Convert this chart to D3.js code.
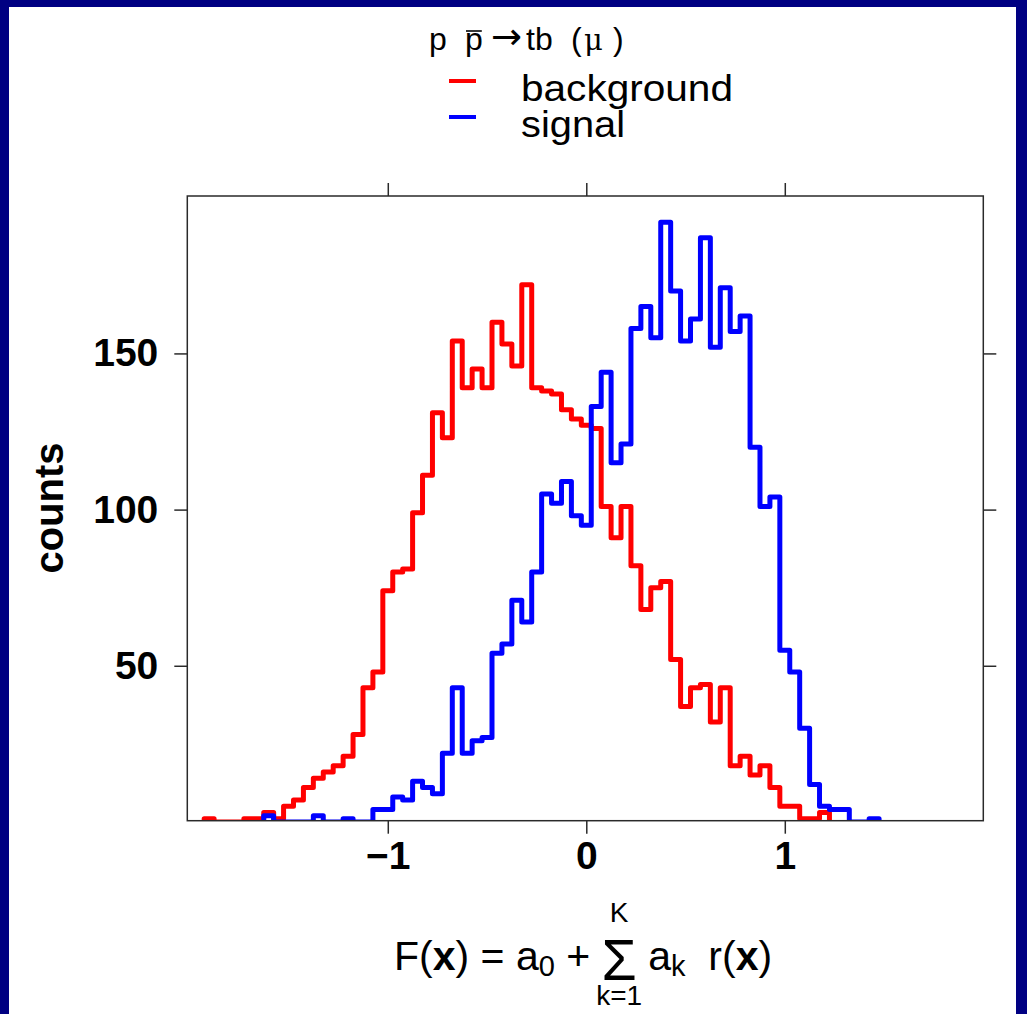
<!DOCTYPE html>
<html><head><meta charset="utf-8">
<script src="https://cdn.jsdelivr.net/npm/d3@7"></script>
<style>html,body{margin:0;padding:0;background:#000082;} svg{display:block}</style>
</head><body>
<svg id="chart" width="1027" height="1014"></svg>
<script>
// ---- data ----
const binCenters = [-1.90,-1.85,-1.80,-1.75,-1.70,-1.65,-1.60,-1.55,-1.50,-1.45,
  -1.40,-1.35,-1.30,-1.25,-1.20,-1.15,-1.10,-1.05,-1.00,-0.95,
  -0.90,-0.85,-0.80,-0.75,-0.70,-0.65,-0.60,-0.55,-0.50,-0.45,
  -0.40,-0.35,-0.30,-0.25,-0.20,-0.15,-0.10,-0.05,0.00,0.05,
  0.10,0.15,0.20,0.25,0.30,0.35,0.40,0.45,0.50,0.55,
  0.60,0.65,0.70,0.75,0.80,0.85,0.90,0.95,1.00,1.05,
  1.10,1.15,1.20,1.25,1.30,1.35,1.40,1.45];
const binWidth = 0.05;
const backgroundCounts = [1,0,0,0,1,1,3,1,5,7,
  11,14,16,18,21,28,43,48,74,80,
  81,99,111,131,123,154,139,145,139,160,
  153,146,172,139,138,137,132,129,127,126,
  101,91,101,82,68,75,77,52,37,43,
  44,32,43,18,21,15,18,11,5,5,
  1,1,3,0,0,0,0,0];
const signalCounts = [0,0,0,0,0,0,2,0,0,0,
  0,2,0,0,1,0,0,4,4,8,
  7,13,11,9,22,43,22,26,27,54,
  57,71,64,80,105,102,109,98,95,133,
  144,115,121,158,165,155,192,170,154,161,
  187,152,171,157,162,120,101,104,55,48,
  30,12,5,4,4,0,0,1];
const seriesNames = ["background", "signal"];
const seriesColors = ["#ff0000", "#0000ff"];
const xTicks = [-1, 0, 1];
const xTickLabels = ["\u22121", "0", "1"];
const yTicks = [50, 100, 150];
const yTickLabels = ["50", "100", "150"];
const xDomain = [-2.01, 2.0];
const yDomain = [0.4, 200.4];

// ---- layout ----
const W = 1027, H = 1014;
const plot = {left: 187.3, right: 983.3, top: 196, bottom: 820.7};
const svg = d3.select("#chart");
const FONT = "'Liberation Sans', Arial, Helvetica, sans-serif";

svg.append("rect").attr("x", 0).attr("y", 0).attr("width", W).attr("height", H).attr("fill", "#000082");
svg.append("rect").attr("x", 9).attr("y", 7).attr("width", 1007).attr("height", H - 7).attr("fill", "#ffffff");

const x = d3.scaleLinear().domain(xDomain).range([plot.left, plot.right]);
const y = d3.scaleLinear().domain(yDomain).range([plot.bottom, plot.top]);

svg.append("defs").append("clipPath").attr("id", "clip")
  .append("rect").attr("x", plot.left).attr("y", plot.top)
  .attr("width", plot.right - plot.left).attr("height", plot.bottom - plot.top);

// histograms (step outlines)
function stepPoints(counts) {
  const first = counts.findIndex(v => v > 0);
  const last = counts.length - 1 - [...counts].reverse().findIndex(v => v > 0);
  const pts = [[binCenters[first] - binWidth / 2, 0]];
  for (let i = first; i <= last; i++) {
    pts.push([binCenters[i] - binWidth / 2, counts[i]]);
    pts.push([binCenters[i] + binWidth / 2, counts[i]]);
  }
  pts.push([binCenters[last] + binWidth / 2, 0]);
  return pts;
}
const line = d3.line().x(d => x(d[0])).y(d => y(d[1]));
const histG = svg.append("g").attr("clip-path", "url(#clip)");
[backgroundCounts, signalCounts].forEach((counts, i) => {
  histG.append("path").attr("d", line(stepPoints(counts)))
    .attr("fill", "none").attr("stroke", seriesColors[i])
    .attr("stroke-width", 5).attr("stroke-linejoin", "round").attr("stroke-linecap", "round");
});

// axes: ticks on all four sides, outward
const axisColor = "#2a2a2a";
const tickLen = 13;
const axB = d3.axisBottom(x).tickValues(xTicks).tickFormat((d, i) => xTickLabels[i]).tickSizeInner(tickLen).tickSizeOuter(0).tickPadding(8);
const axT = d3.axisTop(x).tickValues(xTicks).tickFormat("").tickSizeInner(tickLen).tickSizeOuter(0);
const axL = d3.axisLeft(y).tickValues(yTicks).tickFormat((d, i) => yTickLabels[i]).tickSizeInner(tickLen).tickSizeOuter(0).tickPadding(16);
const axR = d3.axisRight(y).tickValues(yTicks).tickFormat("").tickSizeInner(tickLen).tickSizeOuter(0);
function styleAxis(g) {
  g.select(".domain").remove();
  g.selectAll(".tick line").attr("stroke", axisColor).attr("stroke-width", 1.5);
  g.selectAll(".tick text").attr("fill", "#000").style("font-family", FONT)
    .style("font-weight", "bold").style("font-size", "39px");
}
svg.append("g").attr("transform", `translate(0,${plot.bottom})`).call(axB).call(styleAxis);
svg.append("g").attr("transform", `translate(0,${plot.top})`).call(axT).call(styleAxis);
svg.append("g").attr("transform", `translate(${plot.left},0)`).call(axL).call(styleAxis);
svg.append("g").attr("transform", `translate(${plot.right},0)`).call(axR).call(styleAxis);

svg.append("rect").attr("x", plot.left).attr("y", plot.top)
  .attr("width", plot.right - plot.left).attr("height", plot.bottom - plot.top)
  .attr("fill", "none").attr("stroke", axisColor).attr("stroke-width", 1.5);

// y label
svg.append("text").attr("transform", "translate(63,508) rotate(-90)")
  .attr("text-anchor", "middle").style("font-family", FONT).style("font-weight", "bold")
  .style("font-size", "40px").text("counts");

// title: p  p̄ → tb  (μ)
const title = svg.append("text").attr("y", 50)
  .style("font-family", FONT).style("font-size", "32px");
title.append("tspan").attr("x", 429).text("p");
const pbar = title.append("tspan").attr("x", 465).text("p");
title.append("tspan").attr("x", 491).attr("dy", -1).style("font-family", "'DejaVu Sans', sans-serif").style("font-size", "37px").text("\u2192");
title.append("tspan").attr("x", 526).attr("dy", 1).text("tb");
title.append("tspan").attr("x", 571).text("(");
title.append("tspan").attr("x", 584).style("font-family", "'DejaVu Serif', serif").style("font-size", "29px").text("\u03bc");
title.append("tspan").attr("x", 613).text(")");
{
  const ext = pbar.node().getExtentOfChar(0);
  svg.append("line").attr("x1", ext.x + 1).attr("x2", ext.x + ext.width - 1)
    .attr("y1", 31).attr("y2", 31).attr("stroke", "#000").attr("stroke-width", 1.6);
}

// legend
const legendWidths = [212, 104];
seriesNames.forEach((name, i) => {
  const ly = [81, 117][i];
  svg.append("line").attr("x1", 449).attr("x2", 476).attr("y1", ly).attr("y2", ly)
    .attr("stroke", seriesColors[i]).attr("stroke-width", 4);
  svg.append("text").attr("x", 521).attr("y", [101, 137][i])
    .attr("textLength", legendWidths[i]).attr("lengthAdjust", "spacingAndGlyphs")
    .style("font-family", FONT).style("font-size", "37px").text(name);
});

// x label: F(x) = a0 + sum_{k=1}^{K} a_k  r(x)
const fx = svg.append("text").attr("x", 394).attr("y", 970)
  .style("font-family", FONT).style("font-size", "41px");
fx.append("tspan").text("F(");
fx.append("tspan").style("font-weight", "bold").text("x");
fx.append("tspan").text(") = a");
fx.append("tspan").attr("dy", 6).style("font-size", "29px").text("0");
fx.append("tspan").attr("dy", -6).text(" + ");
const sig = fx.append("tspan").attr("dy", 10).style("font-size", "57px").text("\u03a3");
fx.append("tspan").attr("dy", -10).text(" a");
fx.append("tspan").attr("dy", 6).style("font-size", "29px").text("k");
fx.append("tspan").attr("dy", -6).text("\u00a0 r(");
fx.append("tspan").style("font-weight", "bold").text("x");
fx.append("tspan").text(")");
{
  const e = sig.node().getExtentOfChar(0);
  const cx = e.x + e.width / 2;
  svg.append("text").attr("x", cx).attr("y", 922).attr("text-anchor", "middle")
    .style("font-family", FONT).style("font-size", "28px").text("K");
  svg.append("text").attr("x", cx).attr("y", 1005).attr("text-anchor", "middle")
    .style("font-family", FONT).style("font-size", "28px").text("k=1");
}
</script>
</body></html>
